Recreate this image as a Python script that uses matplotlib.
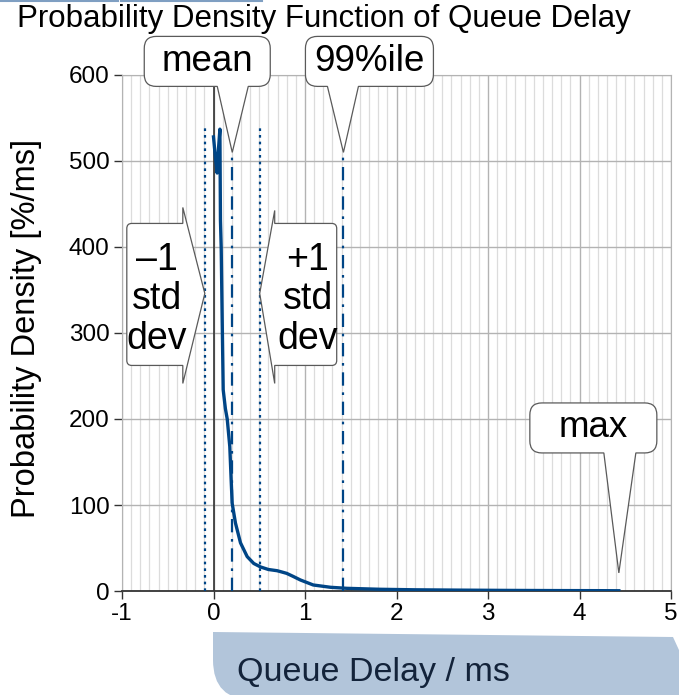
import matplotlib
matplotlib.use('Agg')
import matplotlib.pyplot as plt
from matplotlib.path import Path
from matplotlib.patches import PathPatch
from matplotlib.lines import Line2D
import numpy as np

plt.rcParams['font.family'] = ['Liberation Sans', 'DejaVu Sans']
plt.rcParams['axes.unicode_minus'] = False

# ---------------- data ----------------
delay_ms = [0.0, 0.02, 0.04, 0.055, 0.07, 0.076, 0.084, 0.095, 0.106, 0.13, 0.15,
            0.178, 0.193, 0.204, 0.24, 0.295, 0.368, 0.44, 0.513, 0.6, 0.695, 0.75,
            0.80, 0.87, 0.95, 1.09, 1.28, 1.46, 1.82, 2.2, 2.7, 3.2, 3.7, 4.2, 4.43]
density = [528, 505, 486, 515, 537, 431, 400, 315, 234, 212, 200,
           168, 129, 102, 79, 56, 40, 32, 28, 25, 23.6, 22,
           20.5, 17, 12.8, 7, 4.3, 3.1, 2.0, 1.4, 1.0, 0.7, 0.5, 0.4, 0.3]

stat_mean = 0.205
stat_std = 0.30
stat_p99 = 1.42
stat_max = 4.43
std_marker_top = 540
mid_marker_top = 510
max_pointer_level = 21
std_pointer_level = 346

title_text = "Probability Density Function of Queue Delay"
xlabel_text = "Queue Delay / ms"
ylabel_text = "Probability Density [%/ms]"
x_ticks = [-1, 0, 1, 2, 3, 4, 5]
x_tick_labels = ["-1", "0", "1", "2", "3", "4", "5"]
y_ticks = [0, 100, 200, 300, 400, 500, 600]
y_tick_labels = ["0", "100", "200", "300", "400", "500", "600"]

# ---------------- figure ----------------
W, H = 679, 695
BLUE = '#004586'
fig = plt.figure(figsize=(W / 100, H / 100), dpi=100)
ax = fig.add_axes([122 / W, 1 - 591 / H, (671 - 122) / W, (591 - 75) / H])
ax.set_xlim(-1, 5)
ax.set_ylim(0, 600)
ax.set_xticks(x_ticks)
ax.set_xticklabels(x_tick_labels)
ax.set_yticks(y_ticks)
ax.set_yticklabels(y_tick_labels)
ax.set_xticks(np.arange(-1, 5.001, 0.1), minor=True)
ax.grid(which='minor', axis='x', color='#dcdcdc', lw=0.9, zorder=0)
ax.grid(which='major', axis='both', color='#b3b3b3', lw=1.0, zorder=0)
ax.set_axisbelow(True)
ax.tick_params(axis='both', which='major', direction='out', length=6, width=1,
               color='#333333', labelsize=17.5, pad=3)
ax.tick_params(axis='x', which='minor', length=0)
for s in ['left', 'right', 'top']:
    ax.spines[s].set_color('#b3b3b3')
ax.spines['bottom'].set_color('#333333')
ax.spines['bottom'].set_linewidth(1.3)

ax.axvline(0, color='#333333', lw=1.2, zorder=2)

# statistic markers
ax.vlines([stat_mean - stat_std, stat_mean + stat_std], 0, std_marker_top,
          colors=BLUE, linestyles=(0, (1.2, 1.8)), lw=1.6, zorder=3)
ax.vlines([stat_mean, stat_p99], 0, mid_marker_top,
          colors=BLUE, linestyles=(0, (6, 3, 1.2, 3)), lw=1.6, zorder=3)

ax.plot(delay_ms, density, color=BLUE, lw=2.4, solid_joinstyle='round', zorder=4)

ax.set_ylabel(ylabel_text, fontsize=23.5)
ax.yaxis.set_label_coords((42 - 122) / 549, (591 - 328) / 516)

fig.text(324 / W, 1 - 19 / H, title_text, fontsize=22.5, ha='center', va='center')

fig.canvas.draw()


def to_px(x, y):
    return ax.transData.transform((x, y))


def bubble_bottom(tip, L, R, B, T, p0, p1, r=12):
    tx, ty = tip
    L, R, B, T = tx + L, tx + R, ty + B, ty + T
    P = [
        ((L + r, B), Path.MOVETO),
        ((tx + p0, B), Path.LINETO),
        ((tx, ty), Path.LINETO),
        ((tx + p1, B), Path.LINETO),
        ((R - r, B), Path.LINETO),
        ((R, B), Path.CURVE3), ((R, B + r), Path.CURVE3),
        ((R, T - r), Path.LINETO),
        ((R, T), Path.CURVE3), ((R - r, T), Path.CURVE3),
        ((L + r, T), Path.LINETO),
        ((L, T), Path.CURVE3), ((L, T - r), Path.CURVE3),
        ((L, B + r), Path.LINETO),
        ((L, B), Path.CURVE3), ((L + r, B), Path.CURVE3),
        ((L + r, B), Path.CLOSEPOLY),
    ]
    v, c = zip(*P)
    return Path(v, c), ((L + R) / 2, (B + T) / 2)


def bubble_side(tip, L, R, B, T, q0, q1, side, r=5):
    tx, ty = tip
    L, R, B, T = tx + L, tx + R, ty + B, ty + T
    if side == 'right':
        P = [
            ((L + r, T), Path.MOVETO),
            ((R, T), Path.LINETO),
            ((R, ty + q0), Path.LINETO),
            ((tx, ty), Path.LINETO),
            ((R, ty + q1), Path.LINETO),
            ((R, B), Path.LINETO),
            ((L + r, B), Path.LINETO),
            ((L, B), Path.CURVE3), ((L, B + r), Path.CURVE3),
            ((L, T - r), Path.LINETO),
            ((L, T), Path.CURVE3), ((L + r, T), Path.CURVE3),
            ((L + r, T), Path.CLOSEPOLY),
        ]
    else:
        P = [
            ((R - r, T), Path.MOVETO),
            ((L, T), Path.LINETO),
            ((L, ty + q0), Path.LINETO),
            ((tx, ty), Path.LINETO),
            ((L, ty + q1), Path.LINETO),
            ((L, B), Path.LINETO),
            ((R - r, B), Path.LINETO),
            ((R, B), Path.CURVE3), ((R, B + r), Path.CURVE3),
            ((R, T - r), Path.LINETO),
            ((R, T), Path.CURVE3), ((R - r, T), Path.CURVE3),
            ((R - r, T), Path.CLOSEPOLY),
        ]
    v, c = zip(*P)
    return Path(v, c), ((L + R) / 2, (B + T) / 2)


def add_path(path, fc='white', ec='#5a5a5a', lw=0.9, z=10):
    patch = PathPatch(path, facecolor=fc, edgecolor=ec, lw=lw, transform=None, zorder=z)
    fig.patches.append(patch)
    patch.set_figure(fig)


callouts = [
    (bubble_bottom(to_px(stat_mean, mid_marker_top), -88, 38, 66, 116, -15, 16), "mean"),
    (bubble_bottom(to_px(stat_p99, mid_marker_top), -38, 90, 66, 116, -16, 15), "99%ile"),
    (bubble_bottom(to_px(stat_max, max_pointer_level), -89, 38, 120, 170, -15, 17), "max"),
]
for (path, (cx, cy)), label in callouts:
    add_path(path)
    fig.text(cx / W, cy / H, label, fontsize=26.5, ha='center', va='center',
             zorder=11)

side_callouts = [
    (bubble_side(to_px(stat_mean - stat_std, std_pointer_level), -78, -22, -72, 70, 86, -90, 'right'),
     "\u20131\nstd\ndev"),
    (bubble_side(to_px(stat_mean + stat_std, std_pointer_level), 15, 77, -72, 70, 83, -90, 'left'),
     "+1\nstd\ndev"),
]
for (path, (cx, cy)), label in side_callouts:
    add_path(path)
    fig.text((cx + 2) / W, (cy - 5) / H, label, fontsize=27, ha='center', va='center',
             linespacing=1.12, zorder=11)

# x-axis label band
band = Path([(213, 63), (673, 58), (695, 10), (695, -10), (253, -5), (213, -5), (213, 35), (213, 63)],
            [Path.MOVETO, Path.LINETO, Path.LINETO, Path.LINETO, Path.LINETO,
             Path.CURVE3, Path.CURVE3, Path.CLOSEPOLY])
add_path(band, fc='#b2c5da', ec='none', lw=0, z=1)
fig.text(237 / W, 1 - 673 / H, xlabel_text, fontsize=24.5, ha='left', va='center',
         color='#13233a', zorder=2)

# small decorative line at top-left
fig.lines.append(Line2D([0, 118], [694.3, 694.3], color='#7f9fc2', lw=1.5, transform=None))
fig.lines.append(Line2D([121, 262], [694.3, 694.3], color='#7f9fc2', lw=1.5, transform=None))

fig.savefig('out.png', dpi=100)
